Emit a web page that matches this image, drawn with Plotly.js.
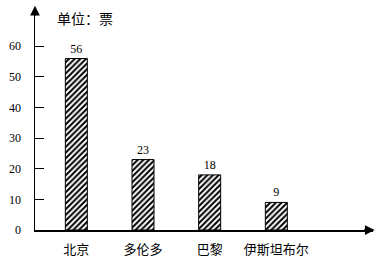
<!DOCTYPE html>
<html><head><meta charset="utf-8">
<script src="https://cdn.plot.ly/plotly-3.0.1.min.js"></script>
<style>html,body{margin:0;padding:0;background:#fff}</style>
</head><body><div id="chart" style="width:377px;height:266px"></div>
<script>
var cities = ["北京", "多伦多", "巴黎", "伊斯坦布尔"];
var votes = [56, 23, 18, 9];
var yTicks = [0, 10, 20, 30, 40, 50, 60];
var unitLabel = "单位：票";

var fontFam = "'Liberation Serif', 'Times New Roman', 'Noto Sans CJK SC', serif";
var cjkFam = "'Noto Sans CJK SC', sans-serif";

var trace = {
  type: "bar",
  x: cities,
  y: votes,
  width: 0.33,
  text: votes.map(String),
  textposition: "outside",
  cliponaxis: false,
  textfont: {family: fontFam, size: 12, color: "#000"},
  marker: {
    color: "#fff",
    line: {color: "#000", width: 1},
    pattern: {shape: "/", size: 4, solidity: 0.5, fgcolor: "#000", bgcolor: "#fff"}
  },
  hoverinfo: "none"
};

var layout = {
  width: 377, height: 266,
  margin: {l: 35, r: 4, t: 8, b: 36},
  paper_bgcolor: "#fff", plot_bgcolor: "#fff",
  showlegend: false,
  font: {family: fontFam, size: 12, color: "#000"},
  xaxis: {
    type: "category",
    range: [-0.62, 4.45],
    showline: true, linecolor: "#000", linewidth: 1.5,
    ticks: "", showgrid: false, zeroline: false,
    tickfont: {family: cjkFam, size: 13, color: "#000"},
    ticklabelstandoff: 7
  },
  yaxis: {
    range: [0, 72.5],
    showline: true, linecolor: "#000", linewidth: 1.5,
    ticks: "inside", ticklen: 9, tickwidth: 1, tickcolor: "#000",
    tickvals: yTicks, ticktext: yTicks.map(String),
    showgrid: false, zeroline: false,
    tickfont: {family: fontFam, size: 12, color: "#000"},
    ticklabelstandoff: 10
  },
  annotations: [
    {xref: "paper", yref: "paper", x: 0, y: 1.01, ax: 0, ay: 12, axref: "pixel", ayref: "pixel",
     showarrow: true, arrowhead: 2, arrowsize: 1.3, arrowwidth: 1.5, arrowcolor: "#000", text: " ",
     font: {size: 1}},
    {xref: "paper", yref: "paper", x: 1.005, y: 0, ax: -12, ay: 0, axref: "pixel", ayref: "pixel",
     showarrow: true, arrowhead: 2, arrowsize: 1.3, arrowwidth: 1.5, arrowcolor: "#000", text: " ",
     font: {size: 1}},
    {xref: "paper", yref: "paper", x: 0, y: 0.955, xanchor: "left", yanchor: "middle", xshift: 20,
     showarrow: false, text: unitLabel, font: {family: cjkFam, size: 14, color: "#000"}}
  ]
};

Plotly.newPlot("chart", [trace], layout, {displayModeBar: false, staticPlot: true});
</script></body></html>
